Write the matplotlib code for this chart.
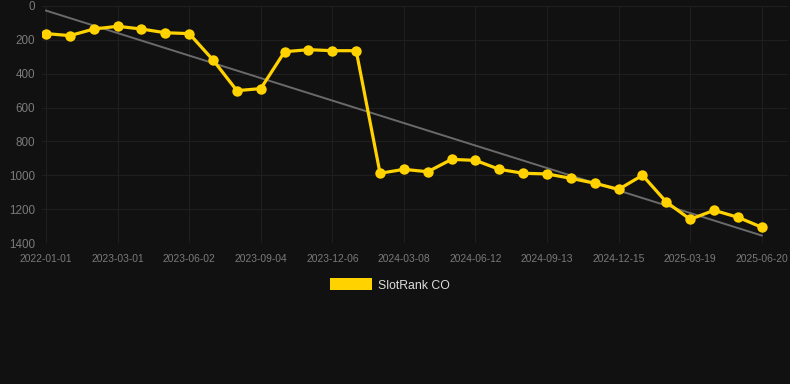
import matplotlib
matplotlib.use('Agg')
import matplotlib.pyplot as plt
from matplotlib.patches import Patch
import numpy as np

plt.rcParams['font.family'] = ['Liberation Sans', 'DejaVu Sans']

# rank values (lower is better), one per sample
rank = [163, 175, 136, 120, 136, 158, 163, 319, 500, 488,
        270, 258, 264, 264, 988, 965, 979, 906, 912, 965,
        988, 992, 1018, 1047, 1083, 1000, 1158, 1260, 1207, 1248, 1307]
tick_labels = ['2022-01-01', '2023-03-01', '2023-06-02', '2023-09-04',
               '2023-12-06', '2024-03-08', '2024-06-12', '2024-09-13',
               '2024-12-15', '2025-03-19', '2025-06-20']
y_ticks = [0, 200, 400, 600, 800, 1000, 1200, 1400]

bg = '#111111'
gold = '#FFD200'

x = np.arange(len(rank))
slope, icpt = np.polyfit(x, rank, 1)

fig = plt.figure(figsize=(7.9, 3.84), dpi=100, facecolor=bg)
ax = fig.add_axes([42 / 790, 1 - 243 / 384, 746 / 790, 237 / 384], facecolor=bg)

ax.plot(x, slope * x + icpt, color='#6a6a6a', linewidth=1.4, zorder=2)
ax.plot(x, rank, color=gold, linewidth=2.3, marker='o', markersize=7.5,
        markeredgewidth=0, zorder=3)

ax.set_xlim(-0.17, 31.1)
ax.set_ylim(1400, 0)
ax.set_yticks(y_ticks)
ax.set_xticks(x[::3])
ax.set_xticklabels(tick_labels)

ax.tick_params(axis='x', colors='#7a7a7a', labelsize=7.4, length=0, pad=8)
ax.tick_params(axis='y', colors='#7a7a7a', labelsize=8.4, length=0, pad=5)
ax.grid(True, color='#1f1f1f', linewidth=0.8)
ax.set_axisbelow(True)
for s in ax.spines.values():
    s.set_visible(False)

fig.legend(handles=[Patch(facecolor=gold, edgecolor='none', label='SlotRank CO')],
           loc='center', bbox_to_anchor=(390 / 790, 1 - 285 / 384),
           frameon=False, fontsize=8.8, labelcolor='#dddddd',
           handlelength=3.4, handleheight=1.1, handletextpad=0.5)

plt.savefig('out.png', dpi=100, facecolor=bg)
plt.close()
